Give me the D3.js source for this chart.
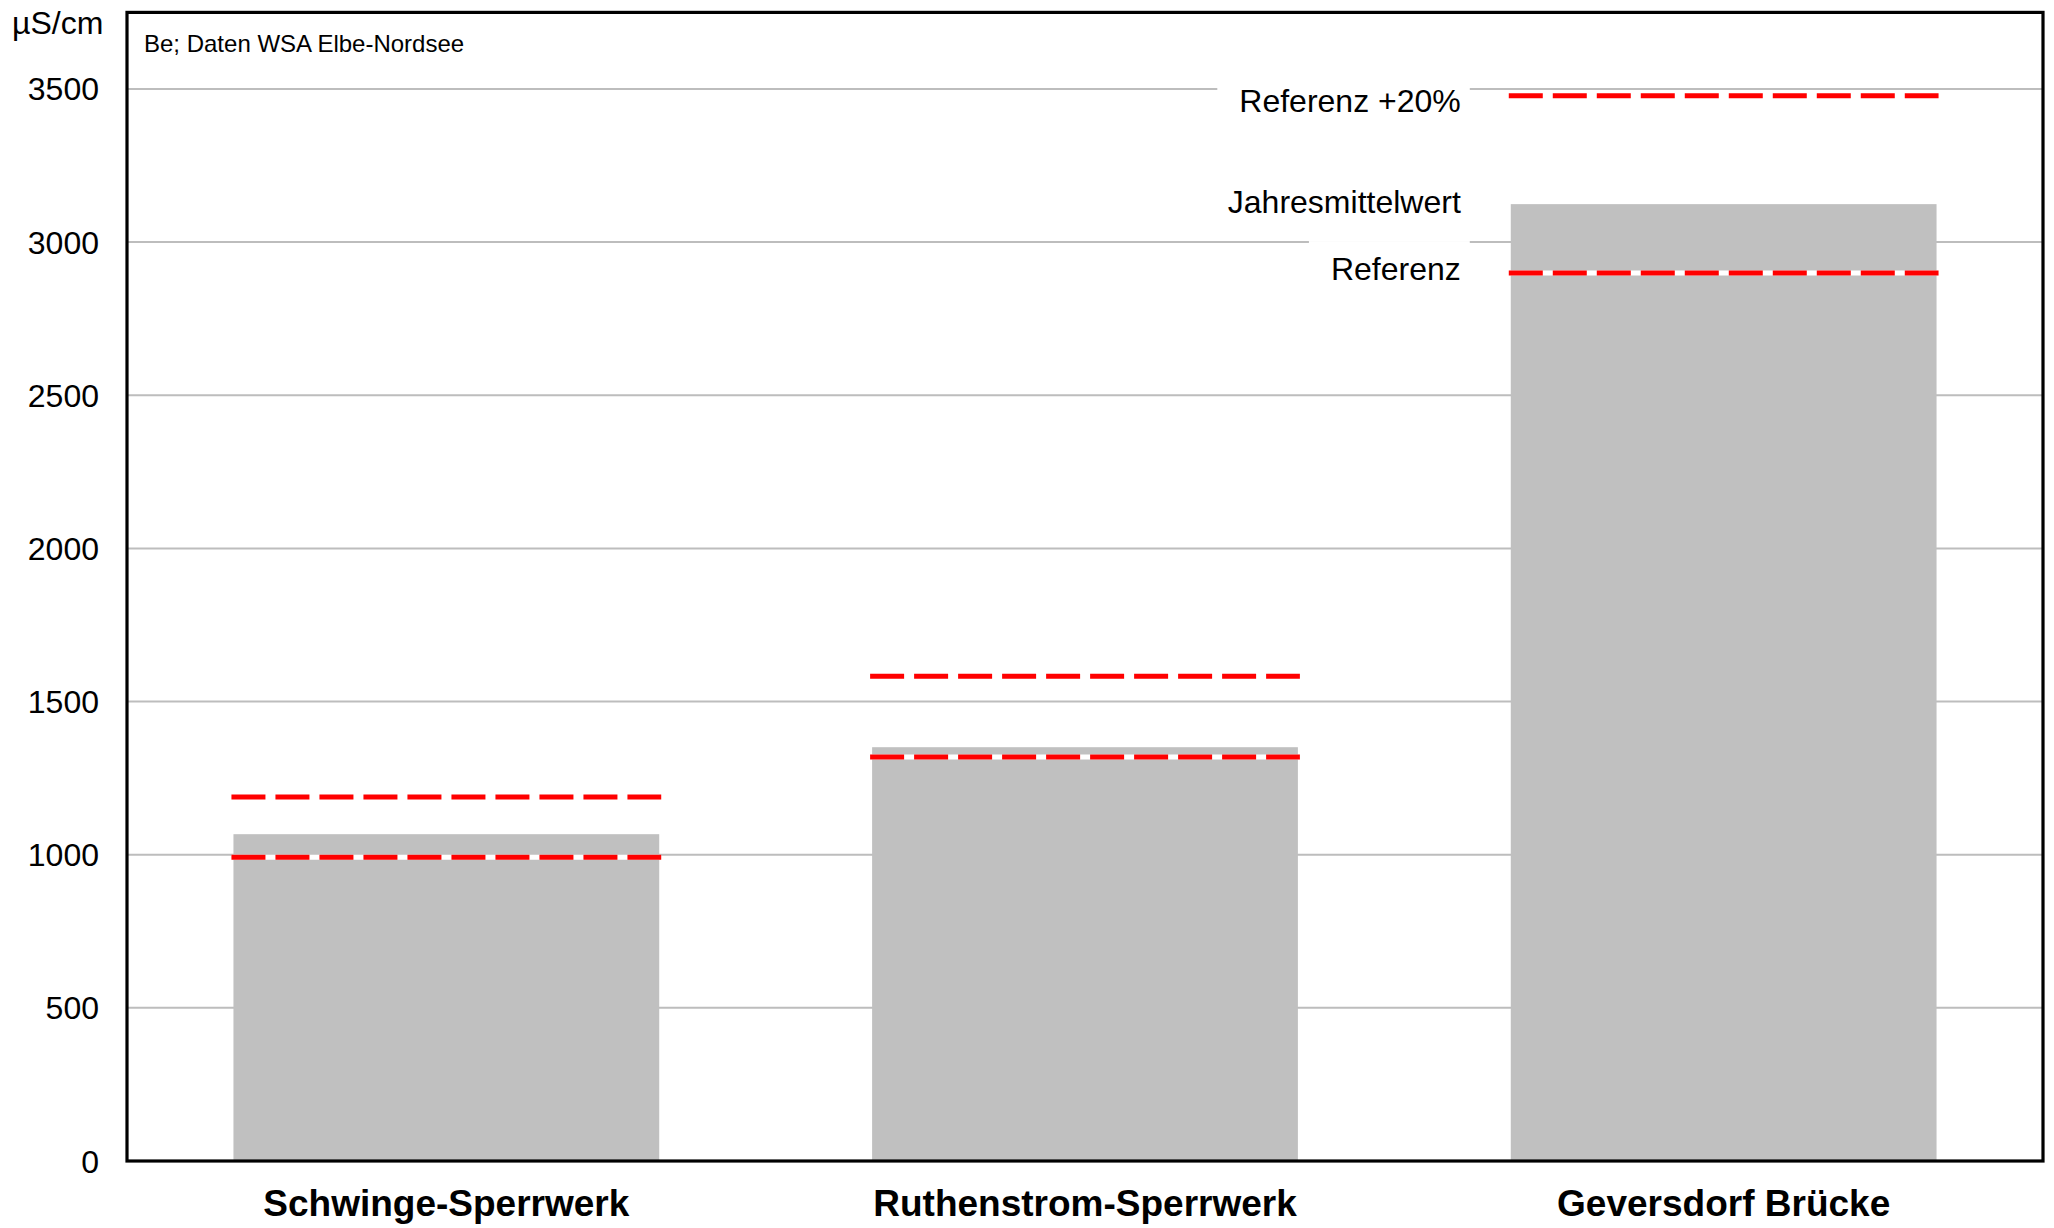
<!DOCTYPE html>
<html>
<head>
<meta charset="utf-8">
<script src="https://cdn.jsdelivr.net/npm/d3@7"></script>
<style>
  html, body { margin: 0; padding: 0; background: #ffffff; }
  svg { display: block; }
  text { font-family: "Liberation Sans", Arial, Helvetica, sans-serif; fill: #000; }
</style>
</head>
<body>
<svg id="chart" width="2054" height="1228"></svg>
<script>
// ---- data ----
const categories = ["Schwinge-Sperrwerk", "Ruthenstrom-Sperrwerk", "Geversdorf Brücke"];
const jahresmittelwert = [1067, 1351, 3124];
const referenz = [992, 1319, 2899];
const referenzPlus20 = [1188, 1583, 3478];
const yTicks = [0, 500, 1000, 1500, 2000, 2500, 3000, 3500];
const unitLabel = "µS/cm";
const sourceLabel = "Be; Daten WSA Elbe-Nordsee";
const legendLabels = ["Referenz +20%", "Jahresmittelwert", "Referenz"];

(function () {
// ---- layout ----
const svg = d3.select("#chart");
const pLeft = 127, pRight = 2043, pTop = 12.4, pBottom = 1161;

const x = d3.scaleBand().domain(categories).range([pLeft, pRight])
  .paddingInner(1/3).paddingOuter(1/6);
const y = d3.scaleLinear().domain([0, 3750]).range([pBottom, pTop]);

// gridlines
svg.append("g").selectAll("line").data(yTicks.filter(d => d > 0)).join("line")
  .attr("x1", pLeft).attr("x2", pRight)
  .attr("y1", d => y(d)).attr("y2", d => y(d))
  .attr("stroke", "#bdbdbd").attr("stroke-width", 2);

// legend labels with white boxes (drawn before bars so boxes only hide grid)
const lastCat = categories[categories.length - 1];
const li = categories.length - 1;
const labelX = x(lastCat) - 50;
const labelDefs = [
  { t: legendLabels[0], yv: referenzPlus20[li], off: 16 },
  { t: legendLabels[1], yv: jahresmittelwert[li], off: 9 },
  { t: legendLabels[2], yv: referenz[li], off: 7 }
];
const lg = svg.append("g");
labelDefs.forEach(d => {
  const g = lg.append("g");
  const t = g.append("text")
    .attr("x", labelX).attr("y", y(d.yv) + d.off)
    .attr("text-anchor", "end")
    .attr("font-size", 32)
    .text(d.t);
  const bb = t.node().getBBox();
  g.insert("rect", "text")
    .attr("x", bb.x - 22).attr("y", bb.y - 10)
    .attr("width", bb.width + 31).attr("height", bb.height + 14)
    .attr("fill", "#ffffff");
});

// bars
svg.append("g").selectAll("rect").data(categories).join("rect")
  .attr("x", d => x(d))
  .attr("width", x.bandwidth())
  .attr("y", (d, i) => y(jahresmittelwert[i]))
  .attr("height", (d, i) => pBottom - y(jahresmittelwert[i]))
  .attr("fill", "#c0c0c0");

// reference lines (white under-line + red dashes)
function refLines(values) {
  const g = svg.append("g");
  g.selectAll("line.bg").data(categories).join("line")
    .attr("class", "bg")
    .attr("x1", d => x(d) - 2).attr("x2", d => x(d) + x.bandwidth() + 2)
    .attr("y1", (d, i) => y(values[i])).attr("y2", (d, i) => y(values[i]))
    .attr("stroke", "#ffffff").attr("stroke-width", 5);
  g.selectAll("line.fg").data(categories).join("line")
    .attr("class", "fg")
    .attr("x1", d => x(d) - 2).attr("x2", d => x(d) + x.bandwidth() + 2)
    .attr("y1", (d, i) => y(values[i])).attr("y2", (d, i) => y(values[i]))
    .attr("stroke", "#ff0000").attr("stroke-width", 5)
    .attr("stroke-dasharray", "34 10");
}
refLines(referenzPlus20);
refLines(referenz);

// frame
svg.append("rect")
  .attr("x", pLeft).attr("y", pTop)
  .attr("width", pRight - pLeft).attr("height", pBottom - pTop)
  .attr("fill", "none").attr("stroke", "#000").attr("stroke-width", 3.2);

// y tick labels
svg.append("g").selectAll("text").data(yTicks).join("text")
  .attr("x", 99).attr("y", d => y(d) + 11.5)
  .attr("text-anchor", "end")
  .attr("font-size", 32)
  .text(d => d);

// unit label
svg.append("text").attr("x", 12).attr("y", 34)
  .attr("font-size", 32).text(unitLabel);

// source label
svg.append("text").attr("x", 144).attr("y", 52)
  .attr("font-size", 24).text(sourceLabel);

// x category labels
svg.append("g").selectAll("text").data(categories).join("text")
  .attr("x", d => x(d) + x.bandwidth() / 2)
  .attr("y", 1216)
  .attr("text-anchor", "middle")
  .attr("font-size", 37)
  .attr("font-weight", "bold")
  .text(d => d);
})();
</script>
</body>
</html>
